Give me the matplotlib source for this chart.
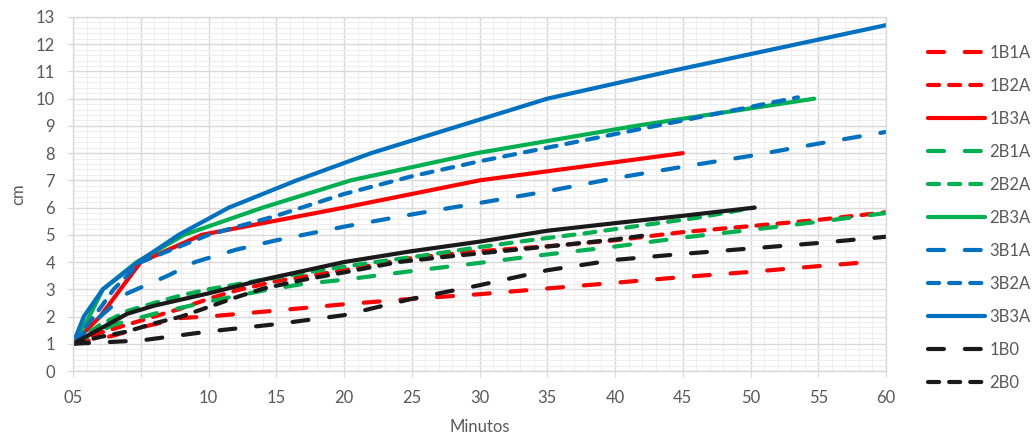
import matplotlib

matplotlib.use("Agg")
import matplotlib.pyplot as plt
from matplotlib.ticker import MultipleLocator

plt.rcParams["font.family"] = ["Lato", "DejaVu Sans"]
plt.rcParams["lines.scale_dashes"] = False

# time (min) / height (cm) readings for each sample
t_1b1a = [0, 3, 5, 8, 10, 15, 20, 25, 30, 35, 40, 45, 50, 55, 58.7]
h_1b1a = [1, 1.3, 1.6, 1.95, 2.0, 2.22, 2.45, 2.65, 2.82, 3.03, 3.24, 3.45, 3.64, 3.85, 4.0]

t_1b2a = [0, 2, 5, 8, 10, 12, 15, 20, 25, 30, 35, 40, 45, 50, 55, 60]
h_1b2a = [1, 1.4, 1.85, 2.3, 2.65, 2.95, 3.3, 3.7, 4.15, 4.4, 4.58, 4.8, 5.1, 5.32, 5.55, 5.83]

t_1b3a = [0, 2, 3.5, 5, 9.5, 20, 30, 45]
h_1b3a = [1, 2, 3, 4, 5, 6, 7, 8]

t_2b1a = [0, 3, 6, 10, 14, 17, 20, 25, 30, 35, 40, 45, 50, 55, 60]
h_2b1a = [1, 1.7, 2.1, 2.55, 2.95, 3.2, 3.35, 3.67, 3.97, 4.28, 4.57, 4.9, 5.18, 5.48, 5.8]

t_2b2a = [0, 2, 4, 6, 8, 10, 14, 18, 22, 26, 30, 34, 38, 42, 46, 50.3]
h_2b2a = [1, 1.7, 2.2, 2.5, 2.78, 3.0, 3.35, 3.68, 3.98, 4.25, 4.55, 4.82, 5.07, 5.35, 5.62, 6.0]

t_2b3a = [0, 1.2, 2.2, 4.7, 8.2, 14, 20.5, 29.8, 41.5, 54.7]
h_2b3a = [1, 2, 3, 4, 5, 6, 7, 8, 9, 10]

t_3b1a = [0, 2, 4, 7, 9, 12, 15, 20, 25, 30, 35, 40, 45, 50, 55, 60]
h_3b1a = [1, 2, 2.85, 3.5, 4.0, 4.45, 4.8, 5.3, 5.75, 6.17, 6.6, 7.08, 7.5, 7.9, 8.35, 8.78]

t_3b2a = [0, 2, 3, 5, 10, 15, 20, 25, 30, 35, 40, 45, 50, 53.5]
h_3b2a = [1, 2.3, 3, 4, 5, 5.7, 6.5, 7.15, 7.7, 8.2, 8.7, 9.2, 9.7, 10.05]

t_3b3a = [0, 0.8, 2.2, 4.8, 7.8, 11.5, 16.5, 22, 28.5, 35, 44, 60]
h_3b3a = [1, 2, 3, 4, 5, 6, 7, 8, 9, 10, 11, 12.7]

t_1b0 = [0, 5, 10, 15, 20, 25, 30, 35, 40, 45, 50, 55, 60]
h_1b0 = [1, 1.12, 1.45, 1.72, 2.05, 2.65, 3.15, 3.7, 4.08, 4.3, 4.5, 4.7, 4.93]

t_2b0 = [0, 2, 4, 6, 8, 10, 12, 14, 17, 20, 24, 28, 32, 36, 40, 42.5]
h_2b0 = [1, 1.25, 1.45, 1.75, 2.0, 2.35, 2.7, 3.02, 3.35, 3.62, 4.0, 4.22, 4.42, 4.62, 4.83, 5.0]

t_3b0 = [0, 2, 4, 6, 10, 14, 20, 25, 30, 35, 40, 45, 50.3]
h_3b0 = [1, 1.55, 2.1, 2.4, 2.85, 3.35, 4.0, 4.4, 4.75, 5.15, 5.43, 5.7, 6.0]

x_ticks = [0, 5, 10, 15, 20, 25, 30, 35, 40, 45, 50, 55, 60]
x_tick_labels = ["05", "", "10", "15", "20", "25", "30", "35", "40", "45", "50", "55", "60"]

RED = "#FF0000"
GREEN = "#00B050"
BLUE = "#0070C0"
BLACK = "#1A1A1A"
LONG = (0, (11.5, 15))
SHORT = (0, (8, 7.2))
SOLID = "-"

series = [
    ("1B1A", t_1b1a, h_1b1a, RED, LONG),
    ("1B2A", t_1b2a, h_1b2a, RED, SHORT),
    ("1B3A", t_1b3a, h_1b3a, RED, SOLID),
    ("2B1A", t_2b1a, h_2b1a, GREEN, LONG),
    ("2B2A", t_2b2a, h_2b2a, GREEN, SHORT),
    ("2B3A", t_2b3a, h_2b3a, GREEN, SOLID),
    ("3B1A", t_3b1a, h_3b1a, BLUE, LONG),
    ("3B2A", t_3b2a, h_3b2a, BLUE, SHORT),
    ("3B3A", t_3b3a, h_3b3a, BLUE, SOLID),
    ("1B0", t_1b0, h_1b0, BLACK, LONG),
    ("2B0", t_2b0, h_2b0, BLACK, SHORT),
    ("3B0", t_3b0, h_3b0, BLACK, SOLID),
]

fig = plt.figure(figsize=(10.36, 4.38), dpi=100)
ax = fig.add_axes([73 / 1036, 1 - 371 / 438, (886 - 73) / 1036, (371 - 17) / 438])

handles = []
for name, t, h, color, style in series:
    (line,) = ax.plot(t, h, color=color, linestyle=style, linewidth=3.0,
                      dash_capstyle="round", solid_capstyle="round", label=name)
    handles.append(line)

ax.set_xlim(0, 60)
ax.set_ylim(0, 13)
ax.set_xticks(x_ticks)
ax.set_xticklabels(x_tick_labels)
ax.yaxis.set_major_locator(MultipleLocator(1))
ax.xaxis.set_minor_locator(MultipleLocator(1))
ax.yaxis.set_minor_locator(MultipleLocator(0.2))

ax.grid(which="major", color="#D9D9D9", linewidth=1.0)
ax.grid(which="minor", color="#EEEEEE", linewidth=0.8)
ax.set_axisbelow(True)
for spine in ax.spines.values():
    spine.set_color("#D9D9D9")
    spine.set_linewidth(1.0)

ax.tick_params(which="major", length=4, color="#D9D9D9", labelcolor="#595959", labelsize=12)
ax.tick_params(axis="y", pad=9)
ax.tick_params(axis="x", pad=10)
ax.tick_params(which="minor", length=0)

ax.set_xlabel("Minutos", fontsize=12, color="#595959", labelpad=9)
ax.set_ylabel("cm", fontsize=12, color="#595959", labelpad=7)

# the last series (3B0) does not fit in the legend column
fig.legend(handles=handles[:11], loc="upper left", bbox_to_anchor=(928 / 1036, 1 - 45 / 438),
           frameon=False, fontsize=12, labelcolor="#595959", handlelength=3.4,
           handletextpad=0.3, labelspacing=1.02, borderpad=0, borderaxespad=0)

fig.savefig("out.png", dpi=100)
